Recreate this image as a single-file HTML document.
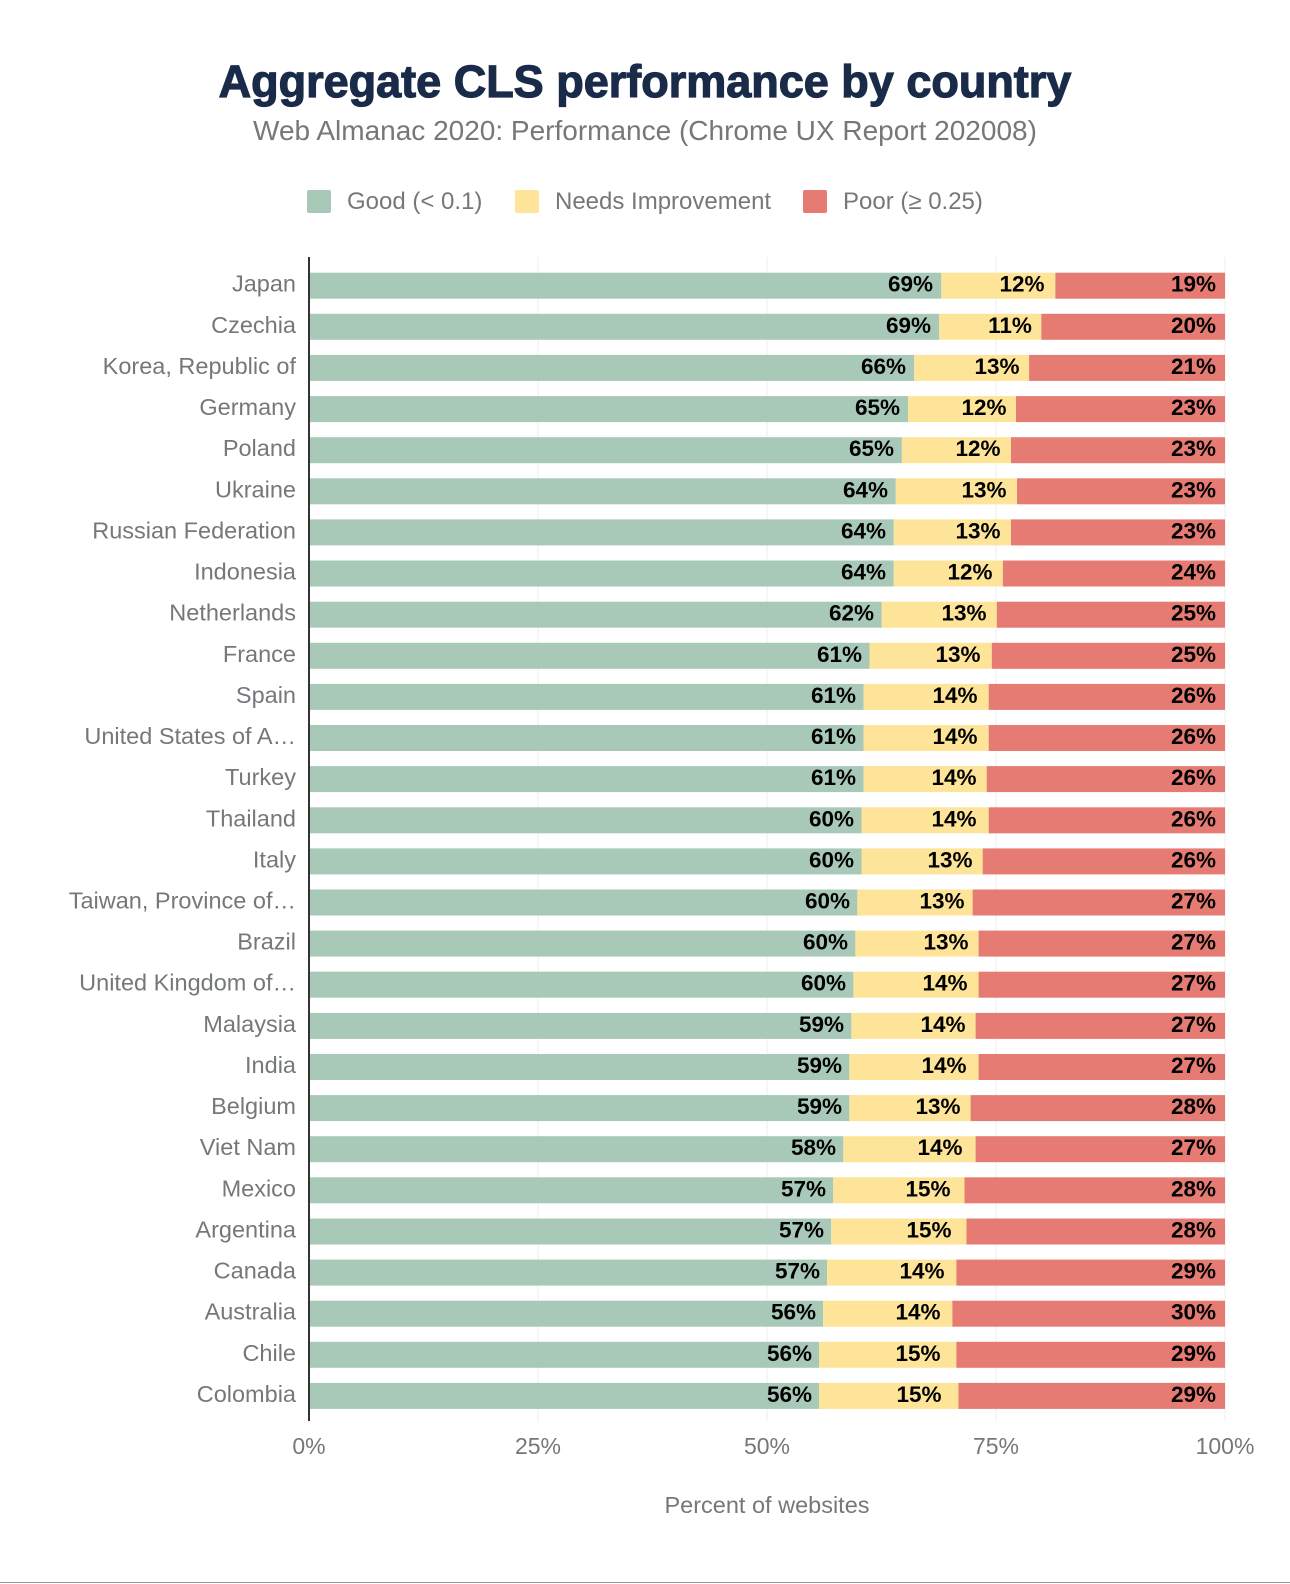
<!DOCTYPE html>
<html><head><meta charset="utf-8"><style>
html,body{margin:0;padding:0;background:#fff;}
svg{display:block;font-family:"Liberation Sans",Arial,sans-serif;}
.c{font-size:23.5px;fill:#75787b;text-anchor:end;}
.v{font-size:22.5px;font-weight:bold;fill:#000;}
.g{fill:#a8c9b8}.y{fill:#fde498}.r{fill:#e57b72}
</style></head><body>
<svg width="1290" height="1584" viewBox="0 0 1290 1584">
<text x="645" y="97" text-anchor="middle" font-size="45" font-weight="bold" fill="#1a2b49" stroke="#1a2b49" stroke-width="1.2">Aggregate CLS performance by country</text>
<text x="645" y="140" text-anchor="middle" font-size="28" fill="#75787b">Web Almanac 2020: Performance (Chrome UX Report 202008)</text>
<rect x="307" y="190" width="24" height="23" rx="2" class="g"/><text x="347" y="209" font-size="24" fill="#75787b">Good (&lt; 0.1)</text>
<rect x="515" y="190" width="24" height="23" rx="2" class="y"/><text x="555" y="209" font-size="24" fill="#75787b">Needs Improvement</text>
<rect x="803" y="190" width="24" height="23" rx="2" class="r"/><text x="843" y="209" font-size="24" fill="#75787b">Poor (≥ 0.25)</text>
<g stroke="#eee" stroke-width="1">
<line x1="538" y1="257" x2="538" y2="1421"/><line x1="767" y1="257" x2="767" y2="1421"/><line x1="996" y1="257" x2="996" y2="1421"/><line x1="1225" y1="257" x2="1225" y2="1421"/>
</g>
<g font-size="23" fill="#75787b" text-anchor="middle">
<text x="309" y="1454">0%</text><text x="538" y="1454">25%</text><text x="767" y="1454">50%</text><text x="996" y="1454">75%</text><text x="1225" y="1454">100%</text>
</g>
<text x="767" y="1513" text-anchor="middle" font-size="23.5" fill="#75787b">Percent of websites</text>

<g transform="translate(0,272.7)"><rect x="309" width="632.3" height="26" class="g"/><rect x="941.3" width="114.1" height="26" class="y"/><rect x="1055.4" width="169.6" height="26" class="r"/><text class="c" x="296" y="19">Japan</text><text class="v" x="933" y="19" text-anchor="end">69%</text><text class="v" x="1022" y="19" text-anchor="middle">12%</text><text class="v" x="1216" y="19" text-anchor="end">19%</text></g>
<g transform="translate(0,313.8)"><rect x="309" width="630.2" height="26" class="g"/><rect x="939.2" width="102.1" height="26" class="y"/><rect x="1041.3" width="183.7" height="26" class="r"/><text class="c" x="296" y="19">Czechia</text><text class="v" x="931" y="19" text-anchor="end">69%</text><text class="v" x="1010" y="19" text-anchor="middle">11%</text><text class="v" x="1216" y="19" text-anchor="end">20%</text></g>
<g transform="translate(0,354.9)"><rect x="309" width="605" height="26" class="g"/><rect x="914" width="115.1" height="26" class="y"/><rect x="1029.1" width="195.9" height="26" class="r"/><text class="c" x="296" y="19">Korea, Republic of</text><text class="v" x="906" y="19" text-anchor="end">66%</text><text class="v" x="997" y="19" text-anchor="middle">13%</text><text class="v" x="1216" y="19" text-anchor="end">21%</text></g>
<g transform="translate(0,396.1)"><rect x="309" width="599" height="26" class="g"/><rect x="908" width="108" height="26" class="y"/><rect x="1016" width="209" height="26" class="r"/><text class="c" x="296" y="19">Germany</text><text class="v" x="900" y="19" text-anchor="end">65%</text><text class="v" x="984" y="19" text-anchor="middle">12%</text><text class="v" x="1216" y="19" text-anchor="end">23%</text></g>
<g transform="translate(0,437.2)"><rect x="309" width="592.9" height="26" class="g"/><rect x="901.9" width="109.1" height="26" class="y"/><rect x="1011" width="214" height="26" class="r"/><text class="c" x="296" y="19">Poland</text><text class="v" x="894" y="19" text-anchor="end">65%</text><text class="v" x="978" y="19" text-anchor="middle">12%</text><text class="v" x="1216" y="19" text-anchor="end">23%</text></g>
<g transform="translate(0,478.3)"><rect x="309" width="586.8" height="26" class="g"/><rect x="895.8" width="121.2" height="26" class="y"/><rect x="1017" width="208" height="26" class="r"/><text class="c" x="296" y="19">Ukraine</text><text class="v" x="888" y="19" text-anchor="end">64%</text><text class="v" x="984" y="19" text-anchor="middle">13%</text><text class="v" x="1216" y="19" text-anchor="end">23%</text></g>
<g transform="translate(0,519.4)"><rect x="309" width="584.8" height="26" class="g"/><rect x="893.8" width="117.2" height="26" class="y"/><rect x="1011" width="214" height="26" class="r"/><text class="c" x="296" y="19">Russian Federation</text><text class="v" x="886" y="19" text-anchor="end">64%</text><text class="v" x="978" y="19" text-anchor="middle">13%</text><text class="v" x="1216" y="19" text-anchor="end">23%</text></g>
<g transform="translate(0,560.5)"><rect x="309" width="584.8" height="26" class="g"/><rect x="893.8" width="109.1" height="26" class="y"/><rect x="1002.9" width="222.1" height="26" class="r"/><text class="c" x="296" y="19">Indonesia</text><text class="v" x="886" y="19" text-anchor="end">64%</text><text class="v" x="970" y="19" text-anchor="middle">12%</text><text class="v" x="1216" y="19" text-anchor="end">24%</text></g>
<g transform="translate(0,601.7)"><rect x="309" width="572.7" height="26" class="g"/><rect x="881.7" width="115.1" height="26" class="y"/><rect x="996.8" width="228.2" height="26" class="r"/><text class="c" x="296" y="19">Netherlands</text><text class="v" x="874" y="19" text-anchor="end">62%</text><text class="v" x="964" y="19" text-anchor="middle">13%</text><text class="v" x="1216" y="19" text-anchor="end">25%</text></g>
<g transform="translate(0,642.8)"><rect x="309" width="560.6" height="26" class="g"/><rect x="869.6" width="122.2" height="26" class="y"/><rect x="991.8" width="233.2" height="26" class="r"/><text class="c" x="296" y="19">France</text><text class="v" x="862" y="19" text-anchor="end">61%</text><text class="v" x="958" y="19" text-anchor="middle">13%</text><text class="v" x="1216" y="19" text-anchor="end">25%</text></g>
<g transform="translate(0,683.9)"><rect x="309" width="554.5" height="26" class="g"/><rect x="863.5" width="125.2" height="26" class="y"/><rect x="988.7" width="236.3" height="26" class="r"/><text class="c" x="296" y="19">Spain</text><text class="v" x="856" y="19" text-anchor="end">61%</text><text class="v" x="955" y="19" text-anchor="middle">14%</text><text class="v" x="1216" y="19" text-anchor="end">26%</text></g>
<g transform="translate(0,725)"><rect x="309" width="554.5" height="26" class="g"/><rect x="863.5" width="125.2" height="26" class="y"/><rect x="988.7" width="236.3" height="26" class="r"/><text class="c" x="296" y="19">United States of A…</text><text class="v" x="856" y="19" text-anchor="end">61%</text><text class="v" x="955" y="19" text-anchor="middle">14%</text><text class="v" x="1216" y="19" text-anchor="end">26%</text></g>
<g transform="translate(0,766.1)"><rect x="309" width="554.5" height="26" class="g"/><rect x="863.5" width="123.2" height="26" class="y"/><rect x="986.7" width="238.3" height="26" class="r"/><text class="c" x="296" y="19">Turkey</text><text class="v" x="856" y="19" text-anchor="end">61%</text><text class="v" x="954" y="19" text-anchor="middle">14%</text><text class="v" x="1216" y="19" text-anchor="end">26%</text></g>
<g transform="translate(0,807.3)"><rect x="309" width="552.5" height="26" class="g"/><rect x="861.5" width="127.2" height="26" class="y"/><rect x="988.7" width="236.3" height="26" class="r"/><text class="c" x="296" y="19">Thailand</text><text class="v" x="854" y="19" text-anchor="end">60%</text><text class="v" x="954" y="19" text-anchor="middle">14%</text><text class="v" x="1216" y="19" text-anchor="end">26%</text></g>
<g transform="translate(0,848.4)"><rect x="309" width="552.5" height="26" class="g"/><rect x="861.5" width="121.2" height="26" class="y"/><rect x="982.7" width="242.3" height="26" class="r"/><text class="c" x="296" y="19">Italy</text><text class="v" x="854" y="19" text-anchor="end">60%</text><text class="v" x="950" y="19" text-anchor="middle">13%</text><text class="v" x="1216" y="19" text-anchor="end">26%</text></g>
<g transform="translate(0,889.5)"><rect x="309" width="548.4" height="26" class="g"/><rect x="857.4" width="115.2" height="26" class="y"/><rect x="972.6" width="252.4" height="26" class="r"/><text class="c" x="296" y="19">Taiwan, Province of…</text><text class="v" x="850" y="19" text-anchor="end">60%</text><text class="v" x="942" y="19" text-anchor="middle">13%</text><text class="v" x="1216" y="19" text-anchor="end">27%</text></g>
<g transform="translate(0,930.6)"><rect x="309" width="546.4" height="26" class="g"/><rect x="855.4" width="123.2" height="26" class="y"/><rect x="978.6" width="246.4" height="26" class="r"/><text class="c" x="296" y="19">Brazil</text><text class="v" x="848" y="19" text-anchor="end">60%</text><text class="v" x="946" y="19" text-anchor="middle">13%</text><text class="v" x="1216" y="19" text-anchor="end">27%</text></g>
<g transform="translate(0,971.7)"><rect x="309" width="544.4" height="26" class="g"/><rect x="853.4" width="125.2" height="26" class="y"/><rect x="978.6" width="246.4" height="26" class="r"/><text class="c" x="296" y="19">United Kingdom of…</text><text class="v" x="846" y="19" text-anchor="end">60%</text><text class="v" x="945" y="19" text-anchor="middle">14%</text><text class="v" x="1216" y="19" text-anchor="end">27%</text></g>
<g transform="translate(0,1012.9)"><rect x="309" width="542.4" height="26" class="g"/><rect x="851.4" width="124.2" height="26" class="y"/><rect x="975.6" width="249.4" height="26" class="r"/><text class="c" x="296" y="19">Malaysia</text><text class="v" x="844" y="19" text-anchor="end">59%</text><text class="v" x="943" y="19" text-anchor="middle">14%</text><text class="v" x="1216" y="19" text-anchor="end">27%</text></g>
<g transform="translate(0,1054)"><rect x="309" width="540.4" height="26" class="g"/><rect x="849.4" width="129.2" height="26" class="y"/><rect x="978.6" width="246.4" height="26" class="r"/><text class="c" x="296" y="19">India</text><text class="v" x="842" y="19" text-anchor="end">59%</text><text class="v" x="944" y="19" text-anchor="middle">14%</text><text class="v" x="1216" y="19" text-anchor="end">27%</text></g>
<g transform="translate(0,1095.1)"><rect x="309" width="540.4" height="26" class="g"/><rect x="849.4" width="121.2" height="26" class="y"/><rect x="970.6" width="254.4" height="26" class="r"/><text class="c" x="296" y="19">Belgium</text><text class="v" x="842" y="19" text-anchor="end">59%</text><text class="v" x="938" y="19" text-anchor="middle">13%</text><text class="v" x="1216" y="19" text-anchor="end">28%</text></g>
<g transform="translate(0,1136.2)"><rect x="309" width="534.3" height="26" class="g"/><rect x="843.3" width="132.3" height="26" class="y"/><rect x="975.6" width="249.4" height="26" class="r"/><text class="c" x="296" y="19">Viet Nam</text><text class="v" x="836" y="19" text-anchor="end">58%</text><text class="v" x="940" y="19" text-anchor="middle">14%</text><text class="v" x="1216" y="19" text-anchor="end">27%</text></g>
<g transform="translate(0,1177.3)"><rect x="309" width="524.2" height="26" class="g"/><rect x="833.2" width="131.3" height="26" class="y"/><rect x="964.5" width="260.5" height="26" class="r"/><text class="c" x="296" y="19">Mexico</text><text class="v" x="826" y="19" text-anchor="end">57%</text><text class="v" x="928" y="19" text-anchor="middle">15%</text><text class="v" x="1216" y="19" text-anchor="end">28%</text></g>
<g transform="translate(0,1218.5)"><rect x="309" width="522.2" height="26" class="g"/><rect x="831.2" width="135.3" height="26" class="y"/><rect x="966.5" width="258.5" height="26" class="r"/><text class="c" x="296" y="19">Argentina</text><text class="v" x="824" y="19" text-anchor="end">57%</text><text class="v" x="929" y="19" text-anchor="middle">15%</text><text class="v" x="1216" y="19" text-anchor="end">28%</text></g>
<g transform="translate(0,1259.6)"><rect x="309" width="518.1" height="26" class="g"/><rect x="827.1" width="129.3" height="26" class="y"/><rect x="956.4" width="268.6" height="26" class="r"/><text class="c" x="296" y="19">Canada</text><text class="v" x="820" y="19" text-anchor="end">57%</text><text class="v" x="922" y="19" text-anchor="middle">14%</text><text class="v" x="1216" y="19" text-anchor="end">29%</text></g>
<g transform="translate(0,1300.7)"><rect x="309" width="514.1" height="26" class="g"/><rect x="823.1" width="129.3" height="26" class="y"/><rect x="952.4" width="272.6" height="26" class="r"/><text class="c" x="296" y="19">Australia</text><text class="v" x="816" y="19" text-anchor="end">56%</text><text class="v" x="918" y="19" text-anchor="middle">14%</text><text class="v" x="1216" y="19" text-anchor="end">30%</text></g>
<g transform="translate(0,1341.8)"><rect x="309" width="510" height="26" class="g"/><rect x="819" width="137.4" height="26" class="y"/><rect x="956.4" width="268.6" height="26" class="r"/><text class="c" x="296" y="19">Chile</text><text class="v" x="812" y="19" text-anchor="end">56%</text><text class="v" x="918" y="19" text-anchor="middle">15%</text><text class="v" x="1216" y="19" text-anchor="end">29%</text></g>
<g transform="translate(0,1382.9)"><rect x="309" width="510" height="26" class="g"/><rect x="819" width="139.5" height="26" class="y"/><rect x="958.5" width="266.5" height="26" class="r"/><text class="c" x="296" y="19">Colombia</text><text class="v" x="812" y="19" text-anchor="end">56%</text><text class="v" x="919" y="19" text-anchor="middle">15%</text><text class="v" x="1216" y="19" text-anchor="end">29%</text></g>

<line x1="309" y1="257" x2="309" y2="1421" stroke="#333" stroke-width="2"/>
<line x1="0" y1="1582.5" x2="1290" y2="1582.5" stroke="#999" stroke-width="1"/>
</svg>
</body></html>
